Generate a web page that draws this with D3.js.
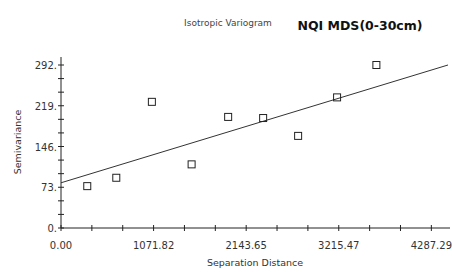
<!DOCTYPE html>
<html>
<head>
<meta charset="utf-8">
<script src="https://cdn.jsdelivr.net/npm/d3@7"></script>
<style>
body{margin:0;background:#fff;}
text{font-family:"DejaVu Sans",Verdana,sans-serif;}
</style>
</head>
<body>
<div id="canvas"></div>
<script>
// variogram points
var lagDist = [304, 640, 1052, 1512, 1935, 2340, 2745, 3196, 3651];
var semiVar = [75, 90, 226, 114, 199, 197, 165, 234, 292];
var xTickVals = [0, 1071.82, 2143.65, 3215.47, 4287.29];
var yTickVals = [0, 73, 146, 219, 292];
var nugget = 81, slope = 0.0471;

var W = 452, H = 273;
var svg = d3.select('#canvas').append('svg').attr('width', W).attr('height', H);

var x = d3.scaleLinear().domain([0, 4480]).range([61, 448]);
var y = d3.scaleLinear().domain([0, 292]).range([228, 65]);

// minor ticks
var xMinor = d3.range(0, 4300, 1071.82 / 3);
var yMinor = d3.range(0, 300, 73 / 3);

var ax = svg.append('g').attr('stroke', '#222').attr('stroke-width', 1);
ax.append('line').attr('x1', x(0)).attr('x2', 450).attr('y1', y(0)).attr('y2', y(0));
ax.append('line').attr('x1', x(0)).attr('x2', x(0)).attr('y1', y(0)).attr('y2', 57);
ax.selectAll('.xt').data(xMinor).enter().append('line')
    .attr('x1', function(d){ return x(d); }).attr('x2', function(d){ return x(d); })
    .attr('y1', y(0) - 3).attr('y2', y(0) + 3);
ax.selectAll('.yt').data(yMinor).enter().append('line')
    .attr('y1', function(d){ return y(d); }).attr('y2', function(d){ return y(d); })
    .attr('x1', x(0) - 3).attr('x2', x(0) + 3);

svg.selectAll('.xl').data(xTickVals).enter().append('text')
    .attr('x', function(d){ return x(d); }).attr('y', 249)
    .attr('text-anchor', 'middle').attr('font-size', 10).attr('fill', '#333')
    .text(function(d){ return d.toFixed(2); });
svg.selectAll('.yl').data(yTickVals).enter().append('text')
    .attr('x', 57).attr('y', function(d){ return y(d) + 4; })
    .attr('text-anchor', 'end').attr('font-size', 10).attr('fill', '#333')
    .text(function(d){ return d + '.'; });

// model line
svg.append('line').attr('stroke', '#333').attr('stroke-width', 1)
    .attr('x1', x(0)).attr('y1', y(nugget))
    .attr('x2', x(4480)).attr('y2', y(nugget + slope * 4480));

// points
svg.selectAll('rect.pt').data(lagDist).enter().append('rect')
    .attr('class', 'pt')
    .attr('x', function(d){ return x(d) - 3.5; })
    .attr('y', function(d, i){ return y(semiVar[i]) - 3.5; })
    .attr('width', 7).attr('height', 7)
    .attr('fill', 'none').attr('stroke', '#222').attr('stroke-width', 1);

svg.append('text').attr('x', 228).attr('y', 26).attr('text-anchor', 'middle')
    .attr('font-size', 9).attr('fill', '#444').text('Isotropic Variogram');
svg.append('text').attr('x', 360).attr('y', 30).attr('text-anchor', 'middle')
    .attr('font-size', 12.5).attr('font-weight', 'bold').attr('fill', '#111').text('NQI MDS(0-30cm)');
svg.append('text').attr('x', 255).attr('y', 266).attr('text-anchor', 'middle')
    .attr('font-size', 9.5).attr('fill', '#333').text('Separation Distance');
svg.append('text').attr('transform', 'translate(21,142) rotate(-90)').attr('text-anchor', 'middle')
    .attr('font-size', 9.5).attr('fill', '#333').text('Semivariance');
</script>
</body>
</html>
